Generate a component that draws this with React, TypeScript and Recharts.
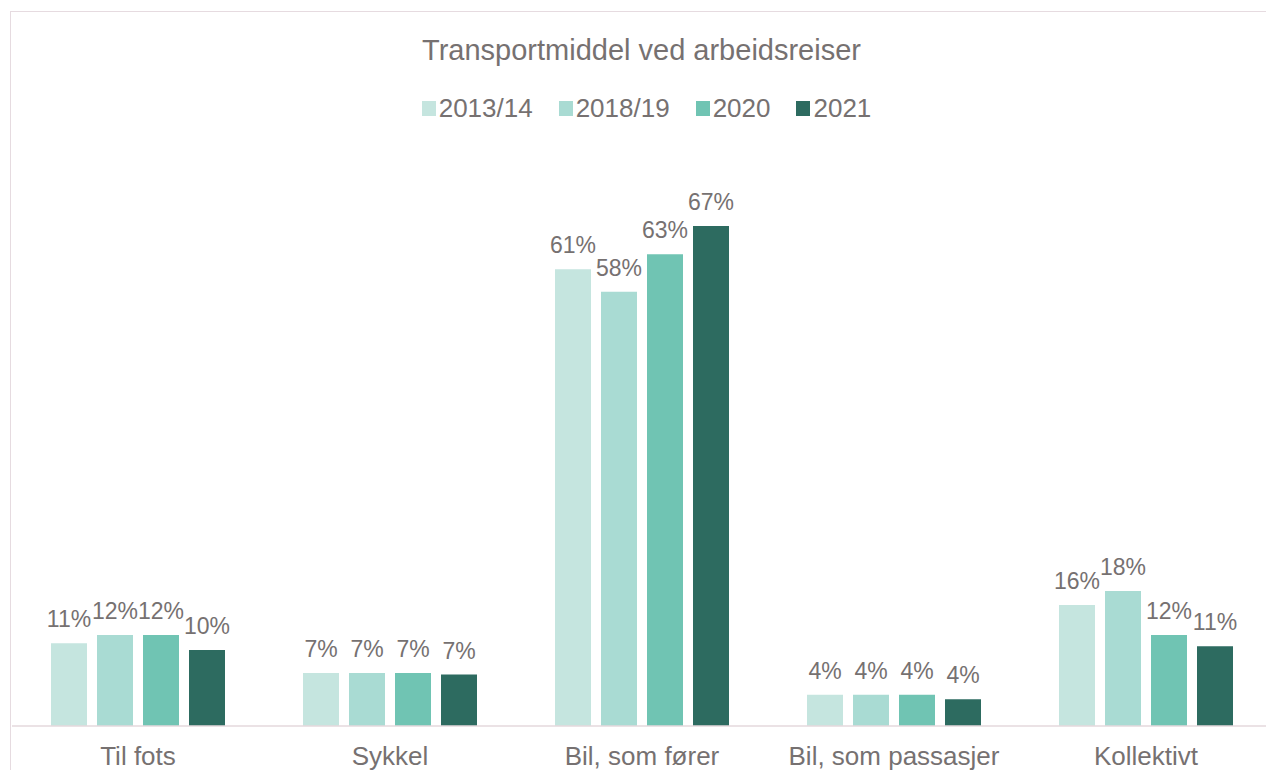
import { BarChart, Bar, XAxis, YAxis, LabelList } from "recharts"

const categories = ["Til fots", "Sykkel", "Bil, som fører", "Bil, som passasjer", "Kollektivt"]
const seriesNames = ["2013/14", "2018/19", "2020", "2021"]
const values2013 = [11.1, 7.1, 61.2, 4.2, 16.2]
const values2018 = [12.2, 7.1, 58.2, 4.2, 18.1]
const values2020 = [12.2, 7.1, 63.2, 4.2, 12.2]
const values2021 = [10.2, 6.9, 67.0, 3.6, 10.7]
const colors = ["#c5e5df", "#a9dbd3", "#70c4b3", "#2d6b60"]

const seriesValues = [values2013, values2018, values2020, values2021]

const data = categories.map((name, i) => {
  const row: Record<string, string | number> = { name }
  seriesNames.forEach((s, j) => {
    row[s] = seriesValues[j][i]
  })
  return row
})

const font = '"Liberation Sans", Arial, sans-serif'
const textColor = "#767171"

export default function App() {
  return (
    <div
      style={{
        position: "relative",
        margin: -8,
        width: 1274,
        height: 778,
        overflow: "hidden",
        background: "#fff",
        fontFamily: font,
      }}
    >
      <div
        style={{
          position: "absolute",
          left: 10,
          top: 11,
          width: 1264,
          height: 800,
          boxSizing: "border-box",
          border: "1.5px solid #e6dbe0",
        }}
      />
      <div
        style={{
          position: "absolute",
          left: 10,
          top: 36,
          width: 1263,
          textAlign: "center",
          fontSize: 29,
          lineHeight: "29px",
          color: textColor,
        }}
      >
        Transportmiddel ved arbeidsreiser
      </div>
      <div
        style={{
          position: "absolute",
          left: 10,
          top: 95,
          width: 1273,
          display: "flex",
          justifyContent: "center",
          gap: 26,
          fontSize: 26,
          lineHeight: "26px",
          color: textColor,
        }}
      >
        {seriesNames.map((s, i) => (
          <div key={s} style={{ display: "flex", alignItems: "center" }}>
            <span
              style={{
                display: "inline-block",
                width: 14,
                height: 15,
                background: colors[i],
                marginRight: 3,
              }}
            />
            <span>{s}</span>
          </div>
        ))}
      </div>
      <div style={{ position: "absolute", left: 12, top: 13 }}>
        <BarChart
          width={1260}
          height={790}
          data={data}
          margin={{ top: 116, right: 0, left: 0, bottom: 0 }}
          barCategoryGap={39}
          barGap={10}
        >
          <XAxis
            dataKey="name"
            height={77}
            tickLine={false}
            tickSize={0}
            tickMargin={21}
            axisLine={{ stroke: "#e4d8dc", strokeWidth: 1.5 }}
            tick={{ fill: textColor, fontSize: 26, fontFamily: font }}
            interval={0}
          />
          <YAxis hide domain={[0, 80]} />
          {seriesNames.map((s, i) => (
            <Bar key={s} dataKey={s} fill={colors[i]} isAnimationActive={false}>
              <LabelList
                dataKey={s}
                position="top"
                offset={16}
                formatter={(v: number) => `${Math.round(v)}%`}
                style={{ fill: textColor, fontSize: 23, fontFamily: font }}
              />
            </Bar>
          ))}
        </BarChart>
      </div>
    </div>
  )
}
